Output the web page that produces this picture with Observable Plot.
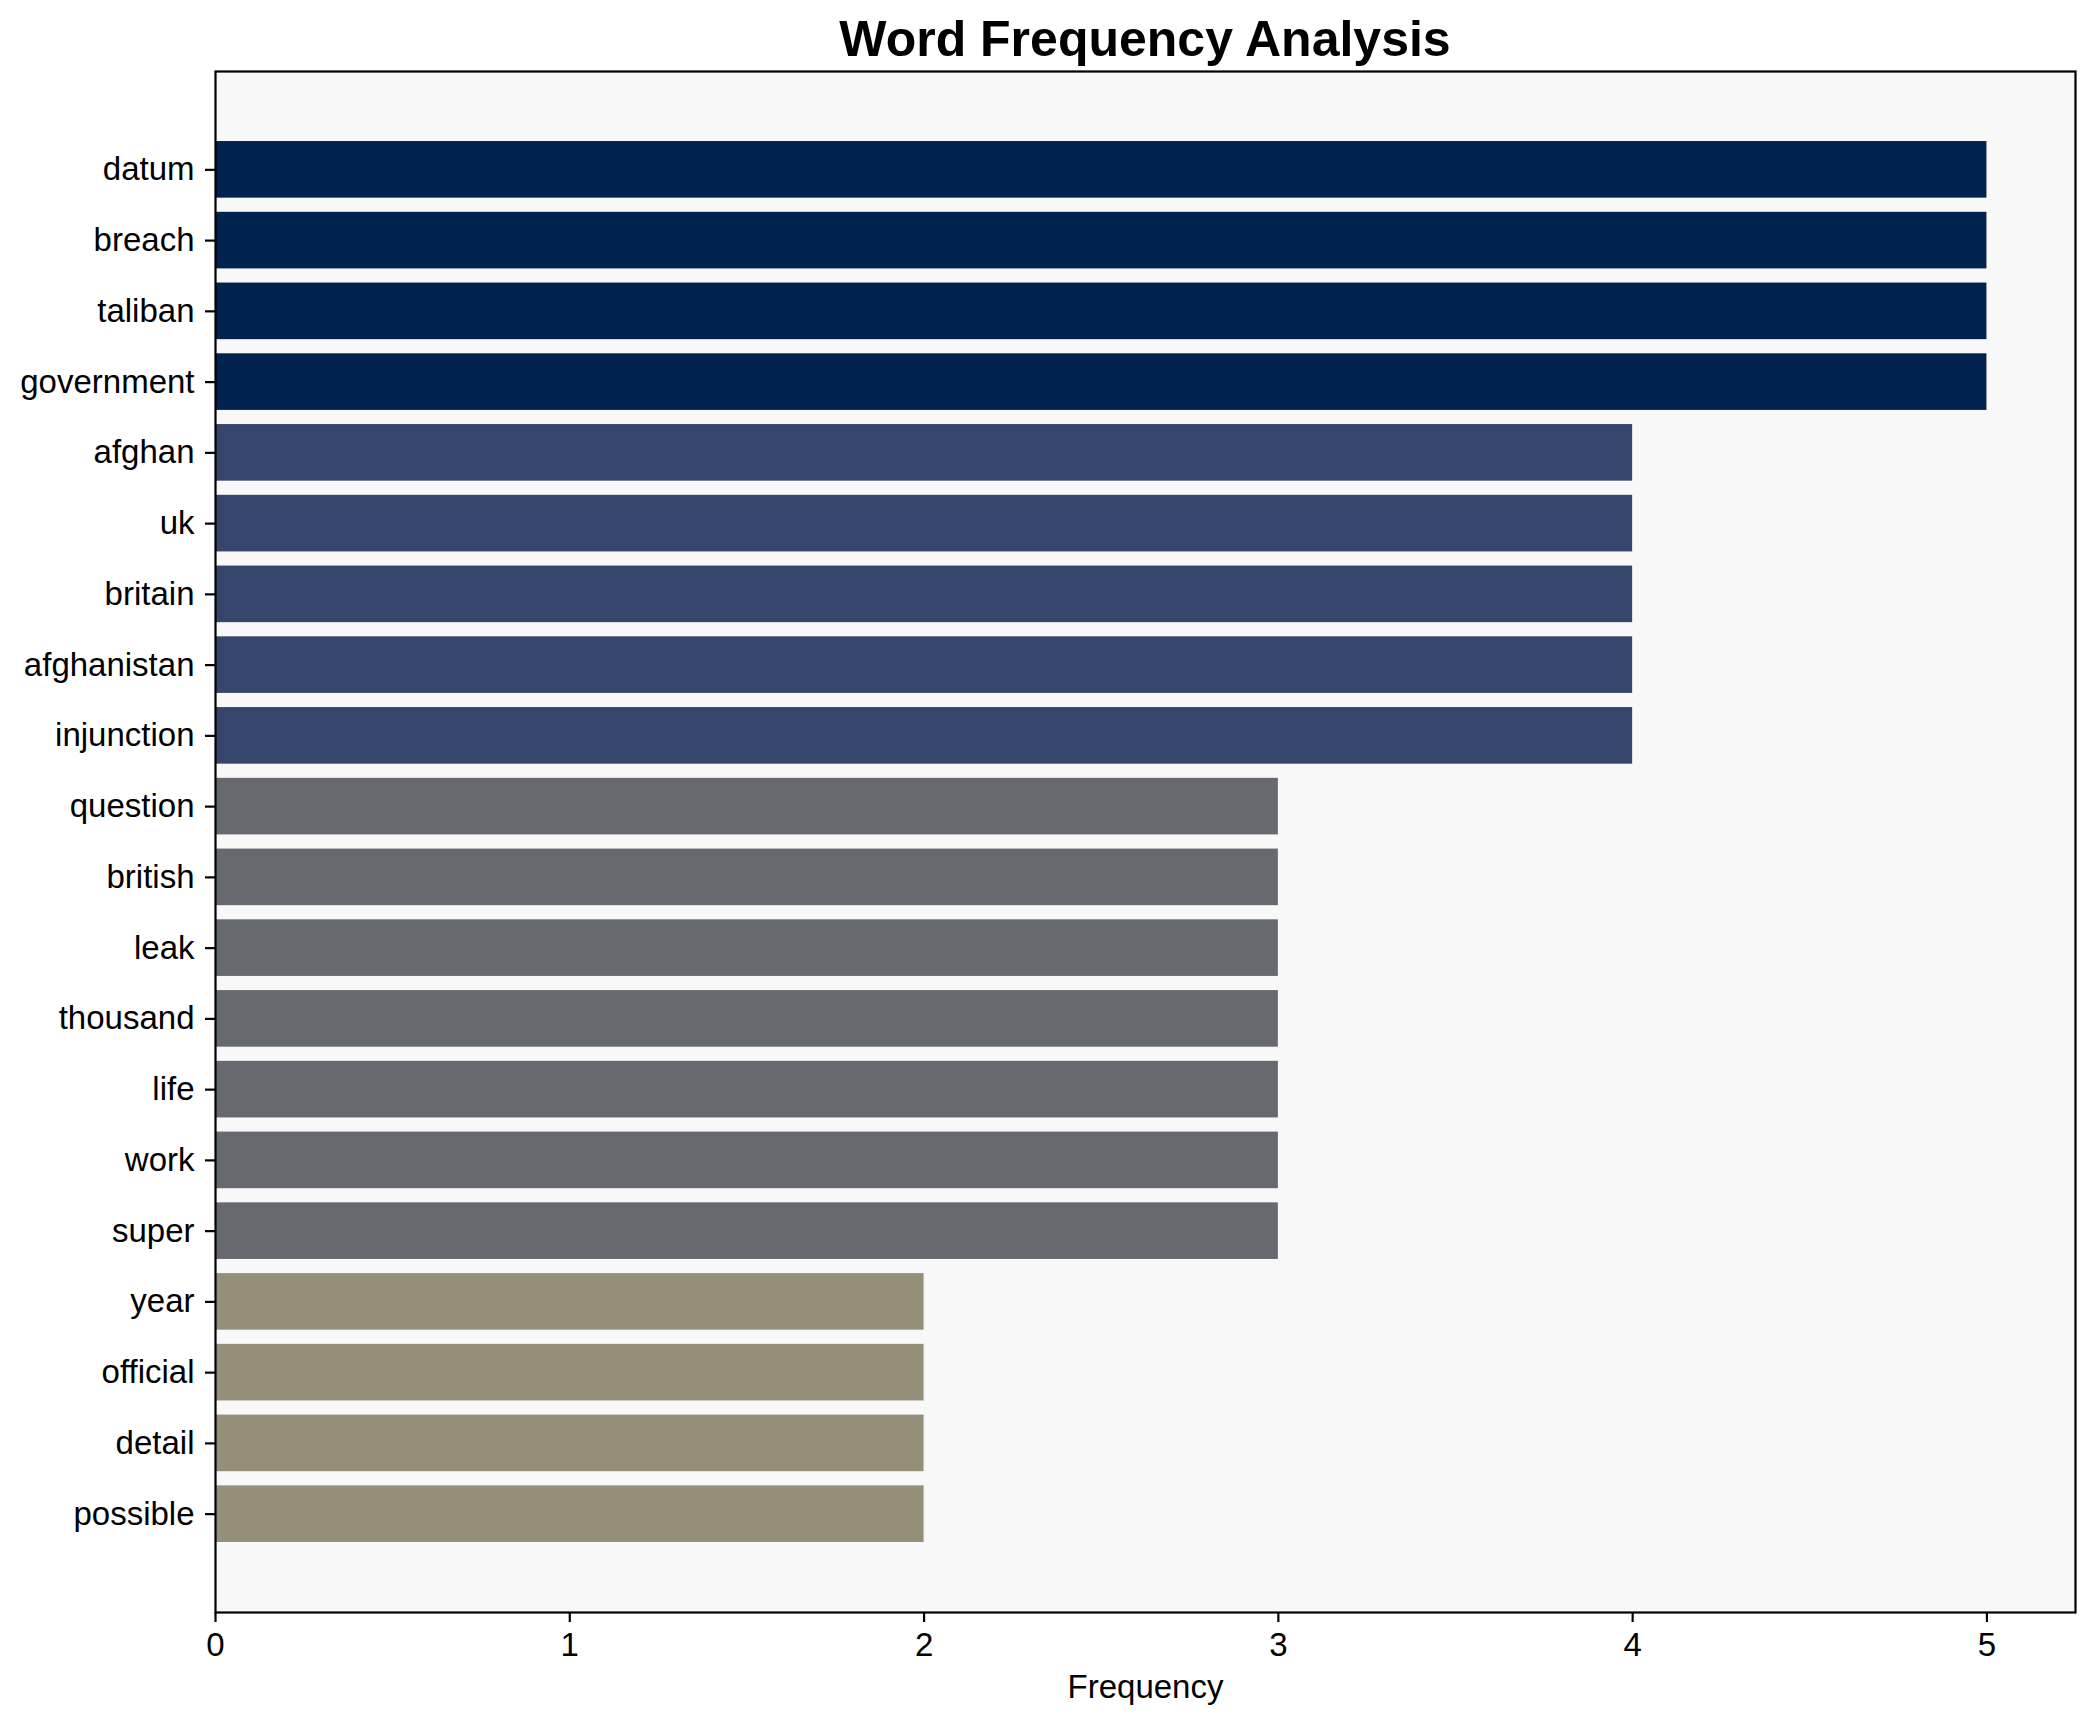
<!DOCTYPE html>
<html>
<head>
<meta charset="utf-8">
<script src="https://cdn.jsdelivr.net/npm/d3@7"></script>
<script src="https://cdn.jsdelivr.net/npm/@observablehq/plot@0.6"></script>
<style>
  html, body { margin: 0; padding: 0; background: white; }
  #wrap { position: relative; width: 2095px; height: 1722px; font-family: "Liberation Sans", Arial, Helvetica, sans-serif; }
  #title { position: absolute; z-index: 2; top: 14px; left: 215px; width: 1860px; text-align: center; font-size: 50px; line-height: 50px; font-weight: bold; color: #000; }
  #chart { position: absolute; z-index: 1; top: 0; left: 0; }
</style>
</head>
<body>
<div id="wrap">
  <div id="chart"></div>
  <div id="title">Word Frequency Analysis</div>
</div>
<script>
const words = ["datum", "breach", "taliban", "government", "afghan", "uk", "britain", "afghanistan", "injunction",
  "question", "british", "leak", "thousand", "life", "work", "super", "year", "official", "detail", "possible"];
const counts = [5, 5, 5, 5, 4, 4, 4, 4, 4, 3, 3, 3, 3, 3, 3, 3, 2, 2, 2, 2];
const xTicks = [0, 1, 2, 3, 4, 5];
const colorLevels = [5, 4, 3, 2];
const colorValues = ["#00224e", "#35456c", "#666970", "#958f78"];
const xLabel = "Frequency";

const data = words.map((w, i) => ({word: w, count: counts[i]}));

const chart = Plot.plot({
  width: 2095,
  height: 1722,
  marginLeft: 215,
  marginRight: 20,
  marginTop: 71,
  marginBottom: 110,
  style: {fontFamily: "'Liberation Sans', Arial, Helvetica, sans-serif", fontSize: "33px", background: "white", color: "black"},
  x: {domain: [0, 5.25]},
  y: {domain: words, paddingInner: 0.2, paddingOuter: 0.99, round: false},
  color: {type: "ordinal", domain: colorLevels, range: colorValues},
  marks: [
    Plot.frame({fill: "#f8f8f8"}),
    Plot.barX(data, {x: "count", y: "word", fill: "count"}),
    Plot.frame({stroke: "black", strokeWidth: 2.2}),
    Plot.axisX({ticks: xTicks, tickSize: 10, tickPadding: 10, strokeWidth: 2.2, fontSize: 33, tickFormat: d => String(d), label: null}),
    Plot.axisY({tickSize: 10, tickPadding: 11, strokeWidth: 2.2, fontSize: 33, label: null}),
    Plot.text([xLabel], {frameAnchor: "bottom", dy: 85, text: d => d, fontSize: 33, lineAnchor: "bottom", fill: "black"})
  ]
});
document.getElementById("chart").appendChild(chart);
</script>
</body>
</html>
